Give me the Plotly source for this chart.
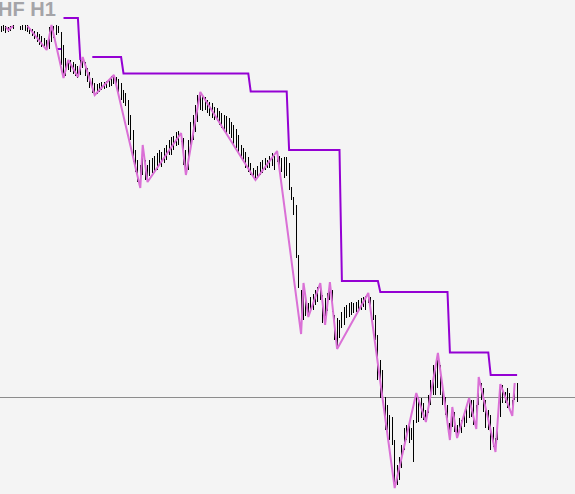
import numpy as np
import plotly.graph_objects as go

# ---- data (prices in points, 1 point = 0.0001); None = no bar ----
high_pts = [
    9474, 9475, 9474, 9473, 9474, 9475, None, None, 9474, 9475,
    9475, 9475, 9472, 9471, 9469, 9468, 9466, 9464, 9462, 9460,
    9473, 9475, 9474, 9475, 9474, 9468, 9455, 9442, 9440, 9440,
    9438, 9436, 9434, 9442, 9443, 9438, 9432, 9428, 9422, 9417,
    9416, 9417, 9418, 9418, 9419, 9420, 9424, 9425, 9423, 9421,
    9417, 9410, 9407, 9400, 9385, 9370, 9350, 9340, 9335, 9355,
    9340, 9335, 9340, 9342, 9344, 9347, 9350, 9348, 9352, 9355,
    9360, 9363, 9364, 9368, 9369, 9367, 9362, 9350, 9360, 9378,
    9385, 9395, 9405, 9408, 9404, 9403, 9400, 9398, 9397, 9393,
    9392, 9389, 9387, 9385, 9384, 9382, 9378, 9375, 9371, 9365,
    9355, 9352, 9348, 9343, 9337, 9332, 9330, 9334, 9338, 9340,
    9342, 9340, 9344, 9347, 9344, 9349, 9344, 9342, 9343, 9343,
    9337, 9313, 9303, 9295, 9245, 9210, 9217, 9200, 9197, 9203,
    9206, 9210, 9213, 9217, 9205, 9202, 9207, 9218, 9210, 9185,
    9182, 9180, 9188, 9193, 9195, 9197, 9198, 9197, 9198, 9200,
    9202, 9203, 9204, 9207, 9203, 9200, 9185, 9165, 9140, 9130,
    9103, 9095, 9085, 9083, 9060, 9035, 9043, 9055, 9072, 9075,
    9078, 9072, 9080, 9107, 9103, 9102, 9097, 9090, 9105, 9120,
    9135, 9130, 9147, 9135, 9110, 9103, 9095, 9077, 9093, 9088,
    9075, 9082, 9080, 9085, 9093, 9102, 9100, 9100, 9095, 9123,
    9117, 9112, 9100, 9090, 9085, 9073, 9062, 9083, 9116, 9115,
    9108, 9112, 9107, 9100, 9117, 9117,
]
low_pts = [
    9468, 9469, 9467, 9468, 9469, 9471, None, None, 9470, 9470,
    9469, 9468, 9466, 9464, 9461, 9458, 9455, 9453, 9452, 9450,
    9451, 9458, 9462, 9465, 9467, 9435, 9422, 9424, 9430, 9428,
    9426, 9424, 9422, 9425, 9432, 9424, 9418, 9412, 9407, 9405,
    9406, 9408, 9410, 9411, 9412, 9413, 9414, 9416, 9412, 9407,
    9400, 9397, 9394, 9375, 9360, 9338, 9328, 9318, 9312, 9325,
    9320, 9318, 9324, 9327, 9328, 9330, 9335, 9333, 9337, 9340,
    9345, 9345, 9350, 9354, 9355, 9358, 9335, 9325, 9330, 9350,
    9360, 9368, 9378, 9390, 9389, 9390, 9387, 9384, 9382, 9380,
    9379, 9375, 9372, 9369, 9367, 9366, 9362, 9356, 9352, 9347,
    9342, 9338, 9332, 9328, 9325, 9322, 9320, 9323, 9325, 9327,
    9330, 9332, 9332, 9334, 9330, 9338, 9332, 9328, 9322, 9324,
    9310, 9300, 9285, 9242, 9212, 9166, 9180, 9184, 9183, 9190,
    9190, 9195, 9198, 9200, 9177, 9175, 9189, 9200, 9188, 9160,
    9151, 9162, 9172, 9175, 9182, 9183, 9185, 9187, 9188, 9190,
    9190, 9193, 9190, 9197, 9192, 9180, 9160, 9120, 9102, 9100,
    9070, 9070, 9060, 9055, 9012, 9015, 9020, 9032, 9050, 9060,
    9057, 9060, 9038, 9077, 9078, 9082, 9080, 9078, 9087, 9095,
    9105, 9105, 9112, 9105, 9095, 9085, 9075, 9060, 9073, 9068,
    9062, 9068, 9067, 9073, 9077, 9082, 9083, 9075, 9071, 9095,
    9100, 9088, 9072, 9070, 9050, 9053, 9048, 9060, 9083, 9097,
    9097, 9092, 9090, 9084, 9100, 9098,
]

# ZigZag pivots (bar index, price in points); None breaks the line
zz_bar = [2, 3, 5, None,
          11, 19, 21, 26, 28, 32, 34, 39, 47, 58, 59, 61, 75, 77, 83, 106,
          115, 125, 126, 128, 133, 135, 137, 140, 153, 164, 173, 177, 182,
          187, 188, 190, 195, 198, 199, 206, 208, 213, 214]
zz_pts = [9473, 9470, 9474, None,
          9474, 9450, 9475, 9422, 9440, 9423, 9443, 9405, 9425, 9312, 9355,
          9318, 9367, 9325, 9408, 9320, 9349, 9166, 9217, 9183, 9217, 9175,
          9218, 9151, 9207, 9012, 9107, 9078, 9147, 9060, 9093, 9062, 9102,
          9071, 9123, 9048, 9116, 9084, 9117]

# Step indicator: runs of constant level (group = connected piece)
step_group = [0, 1, 1, 2, 2, 2, 2, 2, 2, 2, 2]
step_first = [23, 26, 33, 38, 51, 104, 120, 142, 158, 187, 204]
step_last = [25, 32, 33, 50, 103, 119, 141, 157, 186, 203, 215]
step_level = [9451, 9482, 9440, 9443, 9426.5, 9408.5, 9350, 9219, 9208,
              9147.5, 9125]

bid_price = 0.91025
title_text = "HF H1"

# ---- build ----
PT = 10000.0
highs = np.array(high_pts, dtype=float) / PT
lows = np.array(low_pts, dtype=float) / PT
bar_idx = np.arange(len(high_pts))

zz_x = [b for b in zz_bar]
zz_y = [None if p is None else p / PT for p in zz_pts]

sx, sy = [], []
prev = None
for g, a, b, lv in zip(step_group, step_first, step_last, step_level):
    if prev is not None and g != prev:
        sx.append(None)
        sy.append(None)
    for i in range(a, b + 1):
        sx.append(i)
        sy.append(lv / PT)
    prev = g

fig = go.Figure()
fig.add_trace(go.Bar(
    x=bar_idx, base=lows, y=highs - lows, width=0.0005,
    marker=dict(color="#000000", line=dict(width=0)),
    hoverinfo="skip",
))
fig.add_trace(go.Scatter(
    x=sx, y=sy, mode="lines", connectgaps=False,
    line=dict(color="#9400D3", width=2), hoverinfo="skip",
))
fig.add_trace(go.Scatter(
    x=zz_x, y=zz_y, mode="lines", connectgaps=False,
    line=dict(color="#DA70D6", width=2), hoverinfo="skip",
))

fig.add_shape(type="line", xref="paper", x0=0, x1=1, yref="y",
              y0=bid_price, y1=bid_price, layer="below",
              line=dict(color="#8c8c8c", width=1))

fig.add_annotation(
    text="<b>" + title_text + "</b>", xref="paper", yref="paper",
    x=-0.007, y=1.0, xanchor="left", yanchor="top", showarrow=False,
    font=dict(family="Liberation Sans, Arial, sans-serif", size=20,
              color="#a4a4a8"),
    yshift=4,
)

fig.update_layout(
    width=575, height=494, margin=dict(l=0, r=0, t=0, b=0, pad=0),
    paper_bgcolor="#f4f4f4", plot_bgcolor="#f4f4f4",
    showlegend=False, bargap=0, bargroupgap=0,
    xaxis=dict(visible=False, range=[-1.1 / 2.4, (575 - 1.1) / 2.4],
               fixedrange=True),
    yaxis=dict(visible=False, range=[0.95 - 494 / PT, 0.95], fixedrange=True),
)

fig.write_html(
    "out.html",
    config={"displayModeBar": False},
    post_script="document.body.style.margin='0px';"
                "document.body.style.background='#f4f4f4';",
)
